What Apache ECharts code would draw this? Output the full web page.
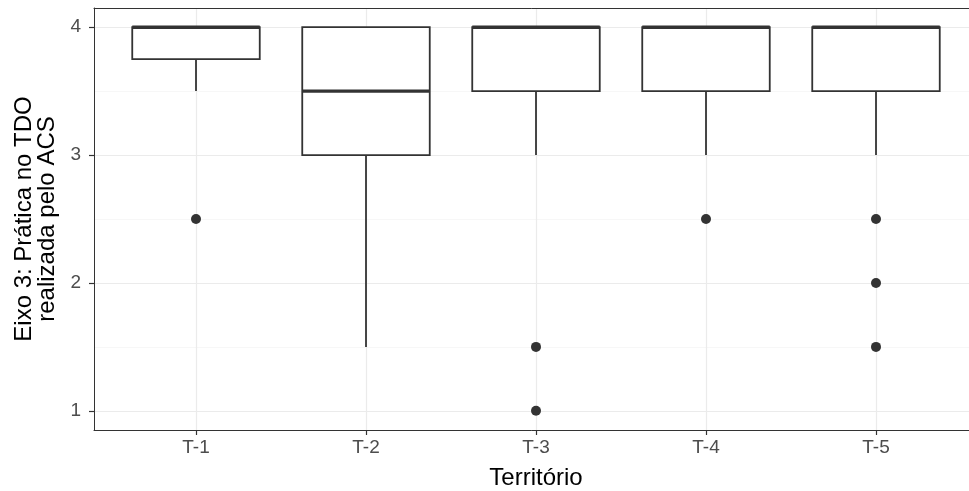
<!DOCTYPE html>
<html><head><meta charset="utf-8">
<script src="https://cdn.jsdelivr.net/npm/echarts@6/dist/echarts.min.js"></script>
<style>html,body{margin:0;padding:0;background:#fff}#c{width:969px;height:491px}</style>
</head><body><div id="c"></div>
<script>
const categories = ['T-1', 'T-2', 'T-3', 'T-4', 'T-5'];
const whiskerLow = [3.5, 1.5, 3, 3, 3];
const q1 = [3.75, 3, 3.5, 3.5, 3.5];
const median = [4, 3.5, 4, 4, 4];
const q3 = [4, 4, 4, 4, 4];
const whiskerHigh = [4, 4, 4, 4, 4];
const outlierCategory = ['T-1', 'T-3', 'T-3', 'T-4', 'T-5', 'T-5', 'T-5'];
const outlierValue = [2.5, 1.5, 1, 2.5, 2.5, 2, 1.5];
const yTicks = [1, 2, 3, 4];
const yMinor = [1.5, 2.5, 3.5];
const xTitle = 'Território';
const yTitle = 'Eixo 3: Prática no TDO\nrealizada pelo ACS';

const idx = categories.map((c, i) => i);
const boxData = categories.map((c, i) => [i, whiskerLow[i], q1[i], median[i], q3[i], whiskerHigh[i]]);
const outData = outlierCategory.map((c, i) => [categories.indexOf(c), outlierValue[i]]);

const FONT = '"Liberation Sans", Arial, sans-serif';
const INK = '#333333';

const gridLines = [];
yTicks.forEach(v => gridLines.push({ yAxis: v, lineStyle: { color: '#EBEBEB', width: 1.2, type: 'solid' } }));
yMinor.forEach(v => gridLines.push({ yAxis: v, lineStyle: { color: '#F3F3F3', width: 0.7, type: 'solid' } }));
idx.forEach(v => gridLines.push({ xAxis: v, lineStyle: { color: '#EBEBEB', width: 1.2, type: 'solid' } }));

const chart = echarts.init(document.getElementById('c'), null, { renderer: 'canvas' });
chart.setOption({
  animation: false,
  backgroundColor: '#ffffff',
  grid: { left: 94, top: 8, width: 884, height: 422, outerBoundsMode: 'none', containLabel: false, show: false },
  xAxis: [{
    type: 'value', min: -0.6, max: 4.6,
    name: xTitle, nameLocation: 'middle', nameGap: 36,
    nameTextStyle: { fontFamily: FONT, fontSize: 24, color: '#000' },
    axisLine: { show: true, onZero: false, lineStyle: { color: INK, width: 1 } },
    axisTick: { show: true, length: 5, customValues: idx, lineStyle: { color: INK, width: 1.2 } },
    axisLabel: { customValues: idx, formatter: v => categories[Math.round(v)], fontFamily: FONT, fontSize: 19, color: '#4D4D4D', margin: 8 },
    splitLine: { show: false }
  }, {
    type: 'value', min: -0.6, max: 4.6, position: 'top',
    axisLine: { show: true, onZero: false, lineStyle: { color: INK, width: 1 } },
    axisTick: { show: false }, axisLabel: { show: false }, splitLine: { show: false }
  }],
  yAxis: {
    type: 'value', min: 0.85, max: 4.15,
    name: yTitle, nameLocation: 'middle', nameGap: 30, nameRotate: 90,
    nameTextStyle: { fontFamily: FONT, fontSize: 24, color: '#000', lineHeight: 23, align: 'center' },
    axisLine: { show: true, onZero: false, lineStyle: { color: INK, width: 1 } },
    axisTick: { show: true, length: 5, customValues: yTicks, lineStyle: { color: INK, width: 1.2 } },
    axisLabel: { customValues: yTicks, fontFamily: FONT, fontSize: 19, color: '#4D4D4D', margin: 13 },
    splitLine: { show: false }
  },
  series: [
    {
      type: 'line', data: [], z: 1, silent: true,
      markLine: { z: 0, silent: true, symbol: ['none', 'none'], label: { show: false }, animation: false, data: gridLines }
    },
    {
      type: 'custom', z: 3, data: boxData,
      renderItem: function (params, api) {
        const x = api.value(0);
        const w = api.size([0.75, 0])[0];
        const pLow = api.coord([x, api.value(1)]);
        const pQ1 = api.coord([x, api.value(2)]);
        const pMed = api.coord([x, api.value(3)]);
        const pQ3 = api.coord([x, api.value(4)]);
        const pHigh = api.coord([x, api.value(5)]);
        const cx = pLow[0];
        const ls = { stroke: INK, lineWidth: 1.8, fill: null };
        return {
          type: 'group',
          children: [
            { type: 'line', shape: { x1: cx, y1: pLow[1], x2: cx, y2: pQ1[1] }, style: ls },
            { type: 'line', shape: { x1: cx, y1: pQ3[1], x2: cx, y2: pHigh[1] }, style: ls },
            { type: 'rect', shape: { x: cx - w / 2, y: pQ3[1], width: w, height: pQ1[1] - pQ3[1] }, style: { fill: '#ffffff', stroke: INK, lineWidth: 1.8 } },
            { type: 'line', shape: { x1: cx - w / 2, y1: pMed[1], x2: cx + w / 2, y2: pMed[1] }, style: { stroke: INK, lineWidth: 3.4 } }
          ]
        };
      }
    },
    {
      type: 'scatter', z: 4, data: outData, symbol: 'circle', symbolSize: 10,
      itemStyle: { color: INK, opacity: 1 }
    }
  ]
});
</script>
</body></html>
